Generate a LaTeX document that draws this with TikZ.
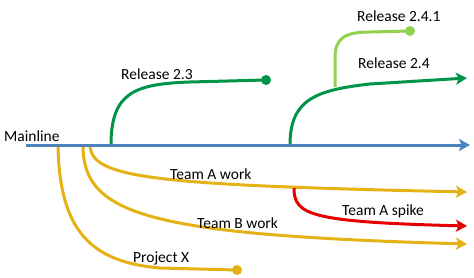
\documentclass[tikz,border=0pt]{standalone}
\usepackage{fontspec}
\setmainfont{Carlito}
\usetikzlibrary{arrows.meta}
\definecolor{mainblue}{RGB}{79,129,189}
\definecolor{dgreen}{RGB}{0,148,72}
\definecolor{lgreen}{RGB}{146,208,80}
\definecolor{gold}{RGB}{228,178,20}
\definecolor{spred}{RGB}{228,0,0}
\tikzset{
  branch/.style={line width=3pt},
  tipped/.style={branch,-{Stealth[length=11pt,width=12pt,inset=2.5pt]}},
  lbl/.style={anchor=base west,inner sep=0pt,font=\fontsize{15.5}{18}\selectfont},
  dot/.style={circle,inner sep=0pt,minimum size=10pt},
}
\begin{document}
\begin{tikzpicture}[x=1pt,y=-1pt]
\useasboundingbox (0,0) rectangle (474,278);
% anchor coordinates
\coordinate (m0) at (26,145);
\coordinate (m1) at (470,145);
\coordinate (r23s) at (111,145);
\coordinate (r24s) at (290,145);
\coordinate (r24e) at (467,78);
\coordinate (r241s) at (335,87);
\coordinate (tas) at (90,145);
\coordinate (tae) at (467,192);
\coordinate (sps) at (294,188);
\coordinate (spe) at (467,226);
\coordinate (tbs) at (83,147);
\coordinate (tbe) at (467,244);
\coordinate (pxs) at (58,147);
\node[dot,fill=dgreen] (d23) at (266,80) {};
\node[dot,fill=lgreen] (d241) at (410,31) {};
\node[dot,fill=gold] (dpx) at (237,270) {};
% yellow branches
\draw[tipped,gold] (tas) .. controls (91,178) and (150,185) .. (tae);
\draw[tipped,gold] (tbs) .. controls (84,215) and (150,235) .. (tbe);
\draw[branch,gold] (pxs) .. controls (60,230) and (90,262) .. (160,268) -- (dpx.center);
\draw[tipped,spred] (sps) .. controls (294,215) and (310,222) .. (spe);
% green branches
\draw[branch,lgreen] (r241s) -- (335,58) .. controls (335,38) and (345,32) .. (370,32) -- (d241.center);
\draw[branch,dgreen] (r23s) .. controls (111,92) and (135,84) .. (190,82) -- (d23.center);
\draw[tipped,dgreen] (r24s) .. controls (290,100) and (315,90) .. (370,84) -- (r24e);
% mainline
\draw[tipped,mainblue] (m0) -- (m1);
% labels
\node[lbl] (lm) at (4,141) {Mainline};
\node[lbl] (l23) at (121,79) {Release 2.3};
\node[lbl] (l241) at (357,22) {Release 2.4.1};
\node[lbl] (l24) at (358,69) {Release 2.4};
\node[lbl] (lta) at (170,179) {Team A work};
\node[lbl] (lsp) at (342,215) {Team A spike};
\node[lbl] (ltb) at (197,228) {Team B work};
\node[lbl] (lpx) at (133,262) {Project X};
\end{tikzpicture}
\end{document}
